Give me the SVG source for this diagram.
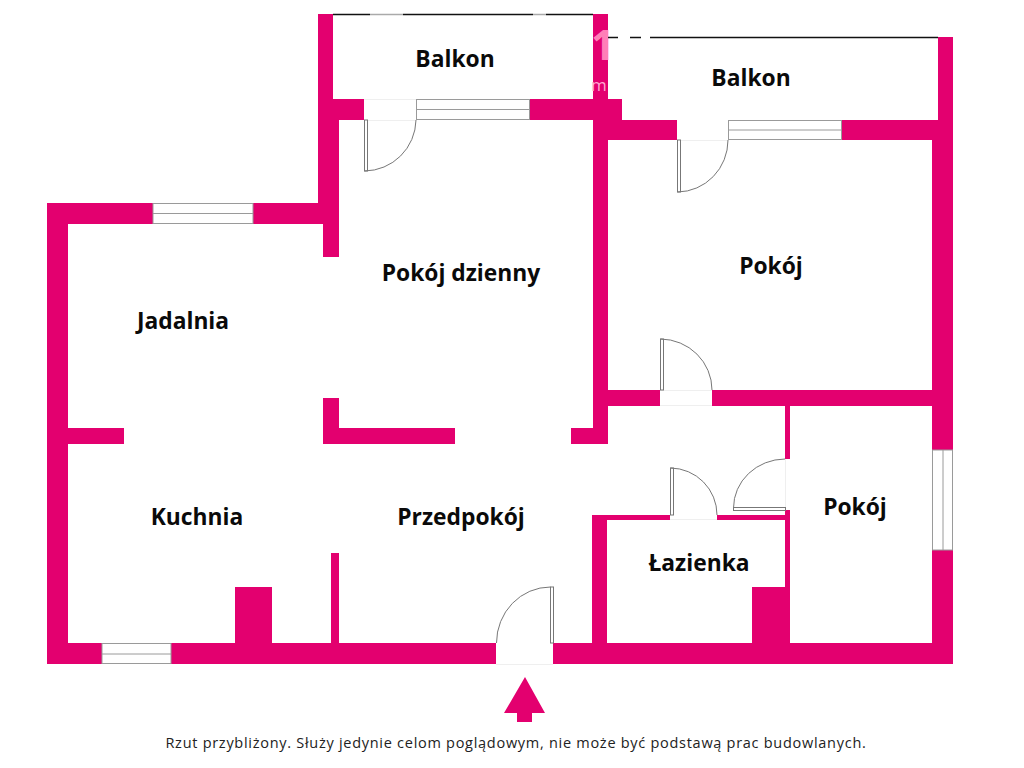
<svg xmlns="http://www.w3.org/2000/svg" width="1024" height="768" viewBox="0 0 1024 768">
<style>
.w{fill:#e3006f}
.win{fill:#fff;stroke:#9a9a9a;stroke-width:1}
.leaf{fill:#fff;stroke:#777;stroke-width:1}
.arc{fill:none;stroke:#777;stroke-width:1}
.th{fill:none;stroke:#efefef;stroke-width:1}
.l{font-family:"Open Sans","Noto Sans",sans-serif;font-weight:700;font-size:22.800px;fill:#0a0a0a;text-anchor:middle}
.c{font-family:"Open Sans","Noto Sans",sans-serif;font-size:14.500px;letter-spacing:.72px;fill:#222;text-anchor:middle}
.wm{font-family:"Open Sans","Noto Sans",sans-serif}
</style>
<rect width="1024" height="768" fill="#fff"/>
<g id="walls">
<path class="w" d="M318 14H333V99H364V120H339V203H318Z"/>
<path class="w" d="M593 14H608V99H622V120H677V140H608V390H660V406H608V444H571V428H593V120H529V99H593Z"/>
<path class="w" d="M842 120H938V37H953V450H932V140H842Z"/>
<path class="w" d="M712 390H932V406H790V459H785V406H712Z"/>
<path class="w" d="M932 550H953V664H553V643H592V515H670V520H607V643H752V587H785V520H717V515H785V510H790V643H932Z"/>
<path class="w" d="M47 203H153V224H68V428H124V444H68V643H102V664H47Z"/>
<path class="w" d="M253 203H339V257H323V224H253Z"/>
<path class="w" d="M171 643H235V587H272V643H331V553H339V643H496V664H171Z"/>
<path class="w" d="M323 398H339V428H455V444H323Z"/>
</g>
<g id="watermark">
<text class="wm" x="591" y="60" font-size="42" font-weight="700" fill="#ff7fb8">1</text>
<text class="wm" x="591" y="91" font-size="17" fill="#ffa8d0">m</text>
</g>
<g id="balcony-rails" fill="none" stroke-width="1.500">
<path stroke="#111" d="M333 14.500H370M403 14.500H533M546 14.500H593"/>
<path stroke="#aaa" d="M370 14.500H403M533 14.500H546"/>
<path stroke="#111" d="M608 37.500H618M630 37.500H641M650 37.500H938"/>
</g>
<g id="windows">
<g id="window-1"><rect class="win" x="416.500" y="99.500" width="113" height="20"/><path class="win" d="M416 109.500H530"/></g>
<g id="window-2"><rect class="win" x="728.500" y="120.500" width="113" height="19"/><path class="win" d="M728 130H842"/></g>
<g id="window-3"><rect class="win" x="153" y="203.500" width="100" height="20"/><path class="win" d="M153 213.500H253"/></g>
<g id="window-4"><rect class="win" x="102" y="643.500" width="69" height="20"/><path class="win" d="M102 654H171"/></g>
<g id="window-5"><rect class="win" x="932.500" y="450" width="20" height="100"/><path class="win" d="M943 450V550"/></g>
</g>
<g id="doors">
<g id="door-1"><path class="th" d="M364 99.500H416M364 120.500H416"/><rect class="leaf" x="364.500" y="120" width="3" height="51"/><path class="arc" d="M364.500 171A52 52 0 0 0 416 120"/></g>
<g id="door-2"><path class="th" d="M677 140.500H728"/><rect class="leaf" x="677.500" y="140" width="3" height="52"/><path class="arc" d="M677.500 192A51 52 0 0 0 728 140"/></g>
<g id="door-3"><path class="th" d="M660 390.500H712M660 405.500H712"/><rect class="leaf" x="660.500" y="339" width="3" height="51"/><path class="arc" d="M660.500 339A52 51 0 0 1 712 390"/></g>
<g id="door-4"><path class="th" d="M670 519.500H717"/><rect class="leaf" x="670.500" y="468" width="3" height="47"/><path class="arc" d="M670.500 468A47 47 0 0 1 717 515"/></g>
<g id="door-5"><path class="th" d="M785.500 459V510"/><rect class="leaf" x="733.500" y="507.500" width="52" height="3"/><path class="arc" d="M733.500 508A52 49 0 0 1 785 459"/></g>
<g id="door-6"><path class="th" d="M496 664.500H553"/><rect class="leaf" x="550.500" y="587" width="3" height="56"/><path class="arc" d="M550.500 587A54 56 0 0 0 496.500 643"/></g>
</g>
<polygon id="entrance-arrow" class="w" points="525,677 545,713 532,713 532,722 517,722 517,713 504,713"/>
<g id="labels">
<text class="l" x="455" y="67">Balkon</text>
<text class="l" x="751" y="86">Balkon</text>
<text class="l" x="461" y="281">Pokój dzienny</text>
<text class="l" x="771" y="274">Pokój</text>
<text class="l" x="183" y="329">Jadalnia</text>
<text class="l" x="197" y="525">Kuchnia</text>
<text class="l" x="461" y="525">Przedpokój</text>
<text class="l" x="855" y="515">Pokój</text>
<text class="l" x="699" y="571">Łazienka</text>
<text class="c" x="516" y="748">Rzut przybliżony. Służy jedynie celom poglądowym, nie może być podstawą prac budowlanych.</text>
</g>
</svg>
